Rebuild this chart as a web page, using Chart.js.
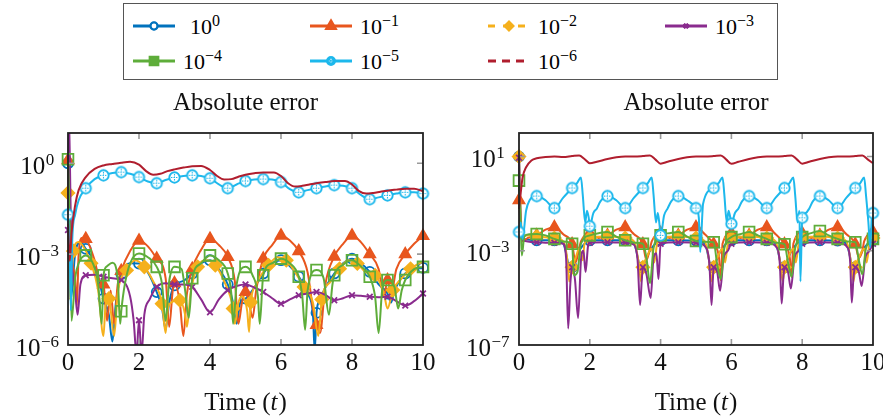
<!DOCTYPE html>
<html>
<head>
<meta charset="utf-8">
<script src="https://cdn.jsdelivr.net/npm/chart.js@4.4.1/dist/chart.umd.min.js"></script>
<style>
  body { margin: 0; width: 883px; height: 419px; background: #fff; position: relative; overflow: hidden; font-family: "Liberation Serif", serif; }
  #legendBox { position: absolute; left: 123px; top: 3px; width: 655px; height: 77px; border: 1.3px solid #555; box-sizing: border-box; }
  .lgc { position: absolute; }
  .lgt { position: absolute; font-size: 22px; line-height: 22px; white-space: nowrap; color: #000; }
  .lgt sup { font-size: 16px; line-height: 0; vertical-align: 8px; }
  #cl { position: absolute; left: 0; top: 85px; }
  #cr { position: absolute; left: 445px; top: 85px; }
</style>
</head>
<body>
<div id="legendBox"></div>
<canvas id="cl" width="445" height="334"></canvas>
<canvas id="cr" width="438" height="334"></canvas>
<script>
// tick labels
const xTicks = [0, 2, 4, 6, 8, 10];
const yExpL = [0, -3, -6];
const yExpR = [1, -3, -7];
// legend: tolerance exponents
const legendExp = ['0', '\u22121', '\u22122', '\u22123', '\u22124', '\u22125', '\u22126'];

// ---------- left panel ----------
const blueTL = [0, 0.08, 0.2, 0.35, 0.5, 0.75, 1.0, 1.15, 1.25, 1.35, 1.5, 1.75, 2.0, 2.25, 2.5, 2.65, 2.75, 2.85, 3.0, 3.25, 3.5, 3.75, 4.0, 4.25, 4.5, 4.65, 4.75, 4.85, 5.0, 5.25, 5.5, 5.75, 6.0, 6.25, 6.5, 6.75, 6.9, 6.95, 7.0, 7.1, 7.25, 7.5, 7.75, 8.0, 8.25, 8.5, 8.75, 9.0, 9.1, 9.2, 9.5, 9.75, 10];
const blueVL = [1, 3.2e-5, 1e-3, 2.5e-3, 1.5e-3, 5e-4, 3.4e-5, 1e-5, 1.3e-6, 2.5e-5, 2.2e-4, 5e-4, 4.9e-4, 2.5e-4, 5.6e-5, 1.6e-5, 3.2e-6, 2.5e-5, 9.3e-5, 1.3e-4, 2.3e-4, 5e-4, 6.3e-4, 3.2e-4, 1e-4, 2.5e-5, 5e-6, 2.5e-5, 3.4e-5, 7.9e-5, 2.3e-4, 5e-4, 6.3e-4, 4e-4, 1.8e-4, 5e-5, 1e-5, 6.3e-7, 1.15e-5, 3.2e-5, 7.9e-5, 2.3e-4, 5e-4, 7.1e-4, 5e-4, 2.6e-4, 1e-4, 5e-5, 2.5e-5, 6.3e-5, 2.3e-4, 3.2e-4, 3.5e-4];

const orangeTL = [0, 0.1, 0.2, 0.25, 0.3, 0.4, 0.5, 0.75, 0.9, 1.0, 1.1, 1.2, 1.3, 1.4, 1.5, 1.75, 2.0, 2.25, 2.5, 2.75, 2.85, 2.95, 3.0, 3.15, 3.25, 3.35, 3.5, 3.75, 4.0, 4.25, 4.5, 4.7, 4.8, 4.9, 5.0, 5.1, 5.2, 5.3, 5.5, 5.75, 6.0, 6.25, 6.5, 6.75, 6.9, 7.0, 7.1, 7.25, 7.5, 7.75, 8.0, 8.25, 8.5, 8.75, 8.9, 9.0, 9.1, 9.25, 9.5, 9.75, 10];
const orangeVL = [1.26, 1e-3, 1.6e-4, 2e-5, 1e-3, 3.5e-3, 3.2e-3, 6.3e-4, 1.26e-4, 1e-4, 6.3e-6, 6.3e-5, 5e-6, 1e-4, 2.8e-4, 1.26e-3, 2.8e-3, 1.8e-3, 7.1e-4, 1.6e-4, 4e-6, 6.3e-5, 1.1e-4, 2.5e-5, 2e-6, 5e-5, 3.3e-4, 1.4e-3, 3.2e-3, 2e-3, 8.1e-4, 1.26e-4, 5e-6, 2.5e-5, 5.6e-5, 2.5e-5, 7.9e-6, 6.3e-5, 7.1e-4, 2e-3, 4.1e-3, 2.8e-3, 1.26e-3, 2.5e-4, 1.6e-5, 4.6e-6, 2.5e-6, 1e-4, 8.3e-4, 2.2e-3, 4.1e-3, 2.5e-3, 1e-3, 3.2e-4, 4e-5, 1.4e-4, 5e-5, 3.2e-4, 1e-3, 2.2e-3, 4e-3];

const yellowTL = [0, 0.05, 0.15, 0.3, 0.4, 0.65, 0.85, 1.0, 1.05, 1.15, 1.3, 1.4, 1.65, 1.9, 2.15, 2.4, 2.65, 2.75, 2.8, 2.9, 3.15, 3.3, 3.35, 3.45, 3.65, 3.9, 4.15, 4.4, 4.65, 4.7, 4.8, 4.9, 5.05, 5.1, 5.15, 5.3, 5.65, 5.9, 6.15, 6.4, 6.65, 6.9, 7.05, 7.15, 7.4, 7.65, 7.9, 8.15, 8.4, 8.65, 8.9, 9.0, 9.15, 9.4, 9.65, 9.9, 10];
const yellowVL = [0.105, 3.2e-5, 1.26e-3, 2.5e-3, 2e-3, 5e-4, 6.3e-5, 2e-6, 1.6e-5, 3.4e-5, 2e-6, 5e-5, 2.95e-4, 6.3e-4, 3.8e-4, 1.26e-4, 2.3e-5, 2.5e-6, 1.26e-5, 2.5e-5, 3e-5, 1e-5, 4e-6, 5e-5, 3.8e-4, 6.3e-4, 4.3e-4, 1.26e-4, 1.6e-5, 5e-6, 2.5e-5, 4e-5, 1.26e-5, 2.7e-6, 2.6e-5, 1e-4, 4.3e-4, 7.9e-4, 6.3e-4, 2.5e-4, 8.3e-5, 2.5e-5, 2e-6, 3.2e-5, 1.26e-4, 3.3e-4, 6.3e-4, 4.9e-4, 2.5e-4, 2e-4, 5e-5, 1.6e-5, 6.5e-5, 1.6e-4, 3.3e-4, 5e-4, 5.6e-4];

const purpleTL = [0, 0.02, 0.1, 0.2, 0.27, 0.35, 0.5, 0.75, 1.0, 1.25, 1.5, 1.75, 1.85, 1.93, 2.0, 2.07, 2.15, 2.3, 2.5, 2.75, 3.0, 3.25, 3.5, 3.75, 4.0, 4.25, 4.5, 4.75, 5.0, 5.25, 5.5, 5.75, 6.0, 6.25, 6.5, 6.75, 7.0, 7.25, 7.5, 7.75, 8.0, 8.25, 8.5, 8.75, 9.0, 9.25, 9.5, 9.75, 10];
const purpleVL = [6.3e-3, 30, 1e-3, 6.3e-5, 1e-5, 1e-4, 2e-4, 2.1e-4, 1.8e-4, 1.6e-4, 1.4e-4, 4e-5, 6.3e-6, 5e-7, 6.6e-6, 5e-7, 1e-5, 3.2e-5, 8.3e-5, 1.1e-4, 1e-4, 1e-4, 8.3e-5, 3.2e-5, 1.2e-5, 3.2e-5, 6.5e-5, 8.9e-5, 1e-4, 7.9e-5, 5.6e-5, 3.5e-5, 2.3e-5, 3.2e-5, 4.4e-5, 5e-5, 5.6e-5, 4.5e-5, 3e-5, 3.5e-5, 4.4e-5, 4.2e-5, 3.9e-5, 3.8e-5, 3.9e-5, 2.8e-5, 2e-5, 2.8e-5, 5e-5];

const greenTL = [0, 0.05, 0.1, 0.2, 0.3, 0.5, 0.7, 0.85, 0.95, 1.0, 1.1, 1.25, 1.4, 1.47, 1.5, 1.6, 1.75, 2.0, 2.25, 2.5, 2.65, 2.75, 2.85, 3.0, 3.2, 3.3, 3.4, 3.5, 3.75, 4.0, 4.25, 4.5, 4.6, 4.65, 4.75, 5.0, 5.2, 5.35, 5.4, 5.5, 5.75, 6.0, 6.25, 6.5, 6.6, 6.68, 6.75, 7.0, 7.2, 7.35, 7.45, 7.5, 7.75, 8.0, 8.25, 8.5, 8.65, 8.75, 8.85, 9.0, 9.2, 9.3, 9.4, 9.5, 9.75, 10];
const greenVL = [1.35, 1e-2, 6.3e-6, 1.6e-4, 5e-4, 9.1e-4, 5e-4, 1e-4, 5e-6, 2e-4, 4e-4, 5.2e-4, 1.6e-4, 5e-6, 1.3e-5, 1e-4, 5e-4, 1.05e-3, 7.9e-4, 3.8e-4, 1e-4, 6.3e-6, 1.26e-4, 3.8e-4, 3.2e-4, 6.3e-5, 7.9e-6, 1.6e-4, 5e-4, 9.1e-4, 6.3e-4, 2.3e-4, 5e-5, 5e-6, 1e-4, 3.8e-4, 2e-4, 4e-5, 5e-6, 2e-4, 5e-4, 7.1e-4, 5e-4, 1.8e-4, 4e-5, 3.2e-6, 6.3e-5, 3e-4, 1.6e-4, 1e-5, 1e-4, 2e-4, 4.5e-4, 6.3e-4, 4e-4, 1.8e-4, 4e-5, 2.5e-6, 6.3e-5, 1.4e-4, 7.9e-5, 1.6e-5, 6.3e-5, 1.4e-4, 3.2e-4, 3.8e-4];

const cyanTL = [0, 0.05, 0.08, 0.12, 0.2, 0.3, 0.5, 0.75, 1.0, 1.25, 1.5, 1.75, 2.0, 2.25, 2.5, 2.75, 3.0, 3.25, 3.5, 3.75, 4.0, 4.25, 4.5, 4.75, 5.0, 5.25, 5.5, 5.75, 6.0, 6.25, 6.5, 6.75, 7.0, 7.25, 7.5, 7.75, 8.0, 8.25, 8.5, 8.75, 9.0, 9.25, 9.5, 9.75, 10];
const cyanVL = [0.02, 1e-3, 1.4e-5, 3e-3, 0.02, 0.06, 0.15, 0.3, 0.4, 0.48, 0.51, 0.45, 0.35, 0.25, 0.22, 0.28, 0.34, 0.38, 0.4, 0.38, 0.32, 0.2, 0.15, 0.2, 0.26, 0.29, 0.3, 0.29, 0.24, 0.14, 0.11, 0.13, 0.15, 0.17, 0.19, 0.18, 0.15, 0.09, 0.065, 0.075, 0.087, 0.1, 0.11, 0.11, 0.1];

const redTL = [0, 0.05, 0.1, 0.2, 0.3, 0.5, 0.75, 1.0, 1.25, 1.5, 1.75, 2.0, 2.2, 2.4, 2.6, 2.8, 3.0, 3.25, 3.5, 3.75, 4.0, 4.2, 4.4, 4.6, 4.8, 5.0, 5.25, 5.5, 5.8, 6.0, 6.2, 6.4, 6.6, 6.8, 7.0, 7.25, 7.5, 7.8, 8.0, 8.2, 8.4, 8.6, 8.8, 9.0, 9.25, 9.5, 9.75, 10];
const redVL = [1e-2, 6e-4, 5e-3, 0.04, 0.13, 0.35, 0.65, 0.85, 0.95, 1.05, 1.12, 0.9, 0.55, 0.42, 0.45, 0.55, 0.63, 0.72, 0.8, 0.82, 0.6, 0.38, 0.29, 0.3, 0.36, 0.42, 0.47, 0.5, 0.5, 0.38, 0.22, 0.17, 0.18, 0.2, 0.22, 0.24, 0.26, 0.26, 0.2, 0.12, 0.1, 0.105, 0.115, 0.125, 0.135, 0.145, 0.145, 0.12];

// ---------- right panel ----------
const blueTR = [0, 0.05, 0.1, 0.25, 0.5, 1.0, 1.25, 1.37, 1.44, 1.5, 1.58, 1.7, 1.85, 2.0, 2.5, 3.0, 3.25, 3.37, 3.44, 3.5, 3.58, 3.7, 3.85, 4.0, 4.5, 5.0, 5.25, 5.37, 5.44, 5.5, 5.58, 5.7, 5.85, 6.0, 6.5, 7.0, 7.25, 7.37, 7.44, 7.5, 7.58, 7.7, 7.85, 8.0, 8.5, 9.0, 9.25, 9.37, 9.44, 9.5, 9.58, 9.7, 9.85, 10];
const blueVR = [10, 2e-2, 3.5e-3, 3e-3, 2.8e-3, 2.8e-3, 2e-3, 4e-4, 1.26e-4, 2e-4, 4e-4, 1e-3, 2e-3, 2.8e-3, 2.8e-3, 2.8e-3, 2e-3, 4e-4, 1.26e-4, 2e-4, 4e-4, 1e-3, 2e-3, 2.8e-3, 2.8e-3, 2.7e-3, 2e-3, 4e-4, 1.26e-4, 2e-4, 4e-4, 1e-3, 2e-3, 2.8e-3, 2.8e-3, 2.8e-3, 2e-3, 4e-4, 1.26e-4, 2e-4, 4e-4, 1e-3, 2e-3, 2.8e-3, 2.8e-3, 2.7e-3, 2e-3, 4e-4, 1.26e-4, 2e-4, 4e-4, 1e-3, 2e-3, 2.8e-3];

const orangeTR = [0, 0.05, 0.1, 0.25, 0.5, 0.75, 1.0, 1.25, 1.5, 1.6, 1.7, 1.75, 2.0, 2.25, 2.5, 2.75, 3.0, 3.25, 3.5, 3.6, 3.7, 3.75, 4.0, 4.25, 4.5, 4.75, 5.0, 5.25, 5.5, 5.65, 5.7, 5.75, 6.0, 6.25, 6.5, 6.75, 7.0, 7.25, 7.5, 7.65, 7.7, 7.75, 8.0, 8.25, 8.5, 8.75, 9.0, 9.25, 9.5, 9.6, 9.7, 9.75, 10];
const orangeVR = [0.14, 1e-2, 2.5e-3, 3.5e-3, 4.5e-3, 7.9e-3, 1e-2, 5e-3, 1.9e-3, 3.2e-4, 1.26e-3, 2.5e-3, 5.6e-3, 3.5e-3, 4.5e-3, 7.9e-3, 1e-2, 5e-3, 1.9e-3, 4e-4, 1.26e-3, 2.5e-3, 5.6e-3, 3.5e-3, 4.5e-3, 7.9e-3, 1e-2, 5e-3, 1.9e-3, 5e-4, 5.6e-5, 2e-3, 5.6e-3, 3.5e-3, 4.5e-3, 7.9e-3, 1e-2, 5e-3, 1.9e-3, 5e-4, 7.9e-5, 2e-3, 5.6e-3, 3.5e-3, 4.5e-3, 7.9e-3, 1e-2, 5e-3, 1.9e-3, 5e-4, 1e-3, 2.5e-3, 6.3e-3];

const yellowTR = [0, 0.05, 0.1, 0.25, 0.5, 1.0, 1.25, 1.35, 1.42, 1.47, 1.5, 1.6, 1.7, 1.8, 1.85, 2.0, 2.5, 3.0, 3.25, 3.38, 3.45, 3.5, 3.6, 3.75, 3.82, 3.9, 4.0, 4.5, 5.0, 5.25, 5.38, 5.45, 5.5, 5.6, 5.75, 5.82, 5.9, 6.0, 6.5, 7.0, 7.25, 7.38, 7.45, 7.5, 7.6, 7.75, 7.82, 7.9, 8.0, 8.5, 9.0, 9.25, 9.38, 9.45, 9.5, 9.6, 9.75, 9.82, 9.9, 10];
const yellowVR = [10, 3.2e-2, 5e-3, 4.5e-3, 4e-3, 3.5e-3, 2.5e-3, 6.3e-4, 5e-5, 1.26e-4, 2e-4, 5e-4, 1.26e-3, 4e-4, 2e-3, 3.5e-3, 4e-3, 3.5e-3, 2.5e-3, 3.2e-4, 5e-5, 2e-4, 5e-4, 1.26e-3, 3.2e-4, 2e-3, 3.5e-3, 4e-3, 3.5e-3, 2.5e-3, 3.2e-4, 5e-5, 2e-4, 5e-4, 1.26e-3, 3.2e-4, 2e-3, 3.5e-3, 4e-3, 3.5e-3, 2.5e-3, 3.2e-4, 5e-5, 2e-4, 5e-4, 1.26e-3, 3.2e-4, 2e-3, 3.5e-3, 4e-3, 3.5e-3, 2.5e-3, 3.2e-4, 5e-5, 2e-4, 5e-4, 1.26e-3, 3.2e-4, 2e-3, 3.5e-3];

const purpleTR = [0, 0.03, 0.06, 0.1, 0.25, 0.5, 0.75, 1.0, 1.25, 1.33, 1.39, 1.45, 1.5, 1.58, 1.67, 1.75, 1.82, 1.88, 1.95, 2.0, 2.5, 3.0, 3.25, 3.35, 3.42, 3.47, 3.5, 3.6, 3.72, 3.8, 3.88, 3.94, 4.0, 4.5, 5.0, 5.3, 5.38, 5.44, 5.48, 5.5, 5.6, 5.68, 5.78, 5.9, 6.0, 6.5, 7.0, 7.3, 7.37, 7.42, 7.47, 7.5, 7.6, 7.68, 7.78, 7.9, 8.0, 8.5, 9.0, 9.3, 9.36, 9.4, 9.45, 9.5, 9.6, 9.68, 9.78, 9.9, 10];
const purpleVR = [8.9, 0.1, 4e-3, 2.8e-3, 2.5e-3, 2.3e-3, 2.2e-3, 2.2e-3, 2e-3, 5e-4, 5e-7, 4e-5, 2e-4, 6.3e-5, 1.4e-6, 4e-4, 1e-3, 1.26e-4, 1.6e-3, 2.2e-3, 2.3e-3, 2.2e-3, 1.8e-3, 4e-4, 5e-6, 6.3e-5, 2e-4, 1e-4, 1e-5, 5e-4, 7.9e-4, 6.3e-5, 2e-3, 2.3e-3, 2.2e-3, 1.26e-3, 2.5e-4, 5e-6, 7.9e-5, 2e-4, 1.26e-4, 2e-5, 5e-4, 1e-3, 2e-3, 2.3e-3, 2.2e-3, 1.26e-3, 2.5e-4, 5.8e-6, 7.9e-5, 2e-4, 1.26e-4, 2.5e-5, 5e-4, 1e-3, 2e-3, 2.3e-3, 2.2e-3, 1.26e-3, 2.5e-4, 6.3e-6, 7.9e-5, 2e-4, 1.26e-4, 3.2e-5, 5e-4, 1e-3, 2e-3];

const greenTR = [0, 0.05, 0.08, 0.15, 0.3, 0.5, 0.75, 1.0, 1.25, 1.5, 1.55, 1.65, 1.75, 2.0, 2.25, 2.5, 2.75, 3.0, 3.25, 3.5, 3.6, 3.7, 3.8, 4.0, 4.25, 4.5, 4.75, 5.0, 5.25, 5.5, 5.6, 5.7, 5.8, 6.0, 6.25, 6.5, 6.75, 7.0, 7.25, 7.5, 7.6, 7.7, 7.8, 8.0, 8.25, 8.5, 8.75, 9.0, 9.25, 9.5, 9.6, 9.7, 9.8, 10];
const greenVR = [0.95, 1e-2, 6.3e-4, 4e-3, 5e-3, 5.2e-3, 4.5e-3, 3.2e-3, 2.5e-3, 2e-3, 9.1e-5, 1.26e-4, 2e-3, 4.5e-3, 5.6e-3, 6.3e-3, 4e-3, 2.8e-3, 2.2e-3, 2e-3, 5e-4, 4.2e-5, 1.26e-3, 4.5e-3, 5.6e-3, 6.3e-3, 4e-3, 2.6e-3, 2.4e-3, 2.3e-3, 2.5e-4, 6.3e-5, 1.26e-3, 3.8e-3, 5e-3, 6.3e-3, 4.5e-3, 3.2e-3, 2.2e-3, 1.9e-3, 3.2e-4, 7.9e-5, 1.26e-3, 3.8e-3, 5.6e-3, 6.9e-3, 4.5e-3, 3.2e-3, 2.5e-3, 2.3e-3, 4e-4, 1e-4, 1.26e-3, 3.2e-3];

const cyanTR = [0, 0.05, 0.1, 0.2, 0.3, 0.5, 0.75, 1.0, 1.25, 1.5, 1.65, 1.75, 1.8, 1.87, 1.92, 1.97, 2.0, 2.1, 2.2, 2.3, 2.5, 2.75, 3.0, 3.25, 3.5, 3.65, 3.75, 3.8, 3.87, 3.92, 3.97, 4.0, 4.1, 4.2, 4.3, 4.5, 4.75, 5.0, 5.08, 5.12, 5.2, 5.5, 5.65, 5.75, 5.8, 5.87, 5.92, 5.97, 6.0, 6.1, 6.2, 6.3, 6.5, 6.75, 7.0, 7.25, 7.5, 7.65, 7.75, 7.8, 7.87, 7.92, 7.95, 8.0, 8.1, 8.2, 8.3, 8.5, 8.75, 9.0, 9.25, 9.5, 9.65, 9.75, 9.8, 9.87, 9.92, 9.97, 10];
const cyanVR = [6.3e-3, 1.6e-2, 3.2e-3, 5e-2, 0.14, 0.21, 0.14, 0.065, 0.18, 0.46, 0.79, 1.3, 0.25, 1.6e-2, 5e-2, 2.5e-2, 1.1e-2, 4e-2, 6.3e-2, 0.126, 0.21, 0.14, 0.065, 0.18, 0.46, 0.79, 1.3, 0.25, 1.6e-2, 4e-2, 1.26e-2, 4.5e-3, 3.2e-2, 6.3e-2, 0.126, 0.21, 0.14, 0.065, 2.5e-2, 8.9e-4, 0.1, 0.46, 0.79, 1.3, 0.25, 1.6e-2, 5e-2, 2.5e-2, 1.4e-2, 4e-2, 6.3e-2, 0.126, 0.21, 0.14, 0.065, 0.18, 0.46, 0.79, 1.3, 0.25, 1.6e-2, 5e-2, 5e-5, 2.5e-2, 4e-2, 6.3e-2, 0.126, 0.21, 0.14, 0.065, 0.18, 0.46, 0.79, 1.3, 0.25, 1.6e-2, 1.4e-3, 3.2e-2, 4e-2];

const redTR = [0, 0.05, 0.1, 0.2, 0.35, 0.5, 0.75, 1.0, 1.25, 1.5, 1.7, 1.85, 2.0, 2.2, 2.5, 2.75, 3.0, 3.25, 3.5, 3.7, 3.85, 4.0, 4.2, 4.5, 4.75, 5.0, 5.25, 5.5, 5.7, 5.85, 6.0, 6.2, 6.5, 6.75, 7.0, 7.25, 7.5, 7.7, 7.85, 8.0, 8.2, 8.5, 8.75, 9.0, 9.25, 9.5, 9.7, 9.85, 10];
const redVR = [0.06, 0.3, 1.26, 3.5, 6.8, 8.5, 9.5, 10, 9.5, 10.5, 11.2, 7.9, 5.2, 6, 7.9, 9.3, 10, 10, 10.5, 11.2, 7.6, 5, 6, 7.9, 9.3, 10, 10, 10.5, 11.2, 7.6, 4.9, 6, 7.9, 9.3, 10, 10, 10.5, 11.2, 7.6, 5, 6, 7.9, 9.3, 10, 10, 10.5, 11.2, 7.6, 5.2];

// ---------- styling ----------
const styles = [
  { color: '#0072BD', shape: 'circle',   r: 5,   fill: false },
  { color: '#E8561E', shape: 'triangle', r: 6.3, fill: true },
  { color: '#F5B01C', shape: 'rectRot',  r: 6.3, fill: true, dash: true },
  { color: '#8A2B8E', shape: 'crossRot', r: 4,   fill: false },
  { color: '#5EAD3A', shape: 'rect',     r: 7.6, fill: false },
  { color: '#1DB8EC', shape: 'otimes',   r: 5.2, fill: false },
  { color: '#B01E2E', shape: null,       r: 0,   fill: false, dash: true }
];

function otimesImage(r, col, filled) {
  const s = Math.ceil(r * 2 + 4);
  const c = document.createElement('canvas');
  c.width = c.height = s;
  const g = c.getContext('2d');
  g.translate(s / 2, s / 2);
  g.beginPath();
  g.arc(0, 0, r, 0, Math.PI * 2);
  g.fillStyle = filled ? col : '#fff';
  g.fill();
  g.lineWidth = 1.9;
  g.strokeStyle = col;
  g.stroke();
  g.strokeStyle = filled ? '#fff' : col;
  g.lineWidth = 1.1;
  g.setLineDash([1.4, 1.1]);
  g.beginPath();
  g.moveTo(-r + 1.7, 0); g.lineTo(r - 1.7, 0);
  g.moveTo(0, -r + 1.7); g.lineTo(0, r - 1.7);
  g.stroke();
  return c;
}
const otimesPlot = otimesImage(5.2, styles[5].color, false);
const otimesLegend = otimesImage(4, styles[5].color, true);

function pts(t, v) { return t.map((x, i) => ({ x: x, y: v[i] })); }

// markers every 0.5 in t (after an offset), plus the first sample
function markerRadius(r, offset) {
  return function (ctx) {
    if (ctx.type !== 'data') return r;
    if (ctx.dataIndex === 0) return r;
    const k = (ctx.raw.x - offset) * 2;
    if (k < -1e-6) return 0;
    return Math.abs(k - Math.round(k)) < 1e-6 ? r : 0;
  };
}

function buildSets(series, offsets) {
  return series.map((s, i) => {
    const st = styles[i];
    return {
      data: pts(s[0], s[1]),
      borderColor: st.color,
      borderWidth: 2,
      cubicInterpolationMode: 'monotone',
      pointStyle: st.shape === 'otimes' ? otimesPlot : (st.shape || 'circle'),
      pointRadius: st.shape ? markerRadius(st.r, offsets[i]) : 0,
      pointBorderWidth: 1.8,
      pointBorderColor: st.color,
      pointBackgroundColor: st.fill ? st.color : 'rgba(255,255,255,0)',
      order: 6 - i,
      clip: { left: 10, right: 10, top: 0, bottom: 0 }
    };
  });
}

const FONT = '"Liberation Serif", serif';

function powLabel(ctx, exp, cx, baseY) {
  const main = '10', sup = exp;
  ctx.font = '25px ' + FONT;
  const w1 = ctx.measureText(main).width;
  ctx.font = '17px ' + FONT;
  const w2 = ctx.measureText(sup).width;
  const x0 = cx - (w1 + w2) / 2;
  ctx.textAlign = 'left';
  ctx.font = '25px ' + FONT;
  ctx.fillText(main, x0, baseY);
  ctx.font = '17px ' + FONT;
  ctx.fillText(sup, x0 + w1 + 0.5, baseY - 9);
}

const frame = {
  id: 'frame',
  afterDatasetsDraw(chart, args, o) {
    const { ctx, chartArea: a } = chart;
    const xs = chart.scales.x, ys = chart.scales.y;
    ctx.save();
    // inward ticks
    ctx.strokeStyle = '#9a9a9a';
    ctx.lineWidth = 1.6;
    ctx.beginPath();
    o.xTicks.forEach(v => {
      const px = xs.getPixelForValue(v);
      if (px > a.left + 2 && px < a.right - 2) {
        ctx.moveTo(px, a.top); ctx.lineTo(px, a.top + 6);
        ctx.moveTo(px, a.bottom); ctx.lineTo(px, a.bottom - 6);
      }
    });
    o.yExp.forEach(e => {
      const py = ys.getPixelForValue(Math.pow(10, e));
      if (py > a.top + 2 && py < a.bottom - 2) {
        ctx.moveTo(a.left, py); ctx.lineTo(a.left + 6, py);
        ctx.moveTo(a.right, py); ctx.lineTo(a.right - 6, py);
      }
    });
    ctx.stroke();
    // box
    ctx.strokeStyle = '#222';
    ctx.lineWidth = 1.8;
    ctx.strokeRect(a.left, a.top, a.right - a.left, a.bottom - a.top);
    // labels
    ctx.fillStyle = '#111';
    ctx.textBaseline = 'alphabetic';
    ctx.font = '25px ' + FONT;
    ctx.textAlign = 'center';
    o.xTicks.forEach(v => ctx.fillText(String(v), xs.getPixelForValue(v), a.bottom + 25));
    o.yExp.forEach(e => {
      const py = ys.getPixelForValue(Math.pow(10, e));
      powLabel(ctx, e < 0 ? '\u2212' + (-e) : String(e), o.labelX, py + 10.5);
    });
    // axis title with italic t
    const cx = (a.left + a.right) / 2;
    const p1 = 'Time (', p2 = 't', p3 = ')';
    ctx.font = '25px ' + FONT;
    const w1 = ctx.measureText(p1).width, w3 = ctx.measureText(p3).width;
    ctx.font = 'italic 25px ' + FONT;
    const w2 = ctx.measureText(p2).width;
    let x0 = cx - (w1 + w2 + w3 + 1) / 2;
    ctx.textAlign = 'left';
    ctx.font = '25px ' + FONT;
    ctx.fillText(p1, x0, a.bottom + 65);
    ctx.font = 'italic 25px ' + FONT;
    ctx.fillText(p2, x0 + w1, a.bottom + 65);
    ctx.font = '25px ' + FONT;
    ctx.fillText(p3, x0 + w1 + w2 + 1, a.bottom + 65);
    // panel title
    ctx.textAlign = 'center';
    ctx.font = '25px ' + FONT;
    ctx.fillText('Absolute error', cx, 25);
    ctx.restore();
  }
};

function makeChart(id, series, offsets, yMin, yMax, pad, yExp, labelX) {
  return new Chart(document.getElementById(id), {
    type: 'line',
    data: { datasets: buildSets(series, offsets) },
    options: {
      responsive: false,
      animation: false,
      layout: { padding: pad },
      scales: {
        x: { type: 'linear', min: 0, max: 10, display: false },
        y: { type: 'logarithmic', min: yMin, max: yMax, display: false }
      },
      plugins: {
        legend: { display: false },
        tooltip: { enabled: false },
        frame: { xTicks: xTicks, yExp: yExp, labelX: labelX }
      },
      events: []
    },
    plugins: [frame]
  });
}

makeChart('cl',
  [[blueTL, blueVL], [orangeTL, orangeVL], [yellowTL, yellowVL], [purpleTL, purpleVL],
   [greenTL, greenVL], [cyanTL, cyanVL], [redTL, redVL]],
  [0, 0, 0.15, 0, 0, 0, 0],
  1e-6, 1e1, { left: 68, right: 22, top: 48, bottom: 74 }, yExpL, 37);

makeChart('cr',
  [[blueTR, blueVR], [orangeTR, orangeVR], [yellowTR, yellowVR], [purpleTR, purpleVR],
   [greenTR, greenVR], [cyanTR, cyanVR], [redTR, redVR]],
  [0, 0, 0, 0, 0, 0, 0],
  1e-7, 1e2, { left: 74, right: 10, top: 48, bottom: 74 }, yExpR, 42.5);

// ---------- legend ----------
const legCols = [133, 310, 488, 665];
const legRows = [26, 60.5];
const legendMarkers = [
  { pointStyle: 'circle', radius: 3.3, borderWidth: 1.8, fill: false },
  { pointStyle: 'triangle', radius: 5, borderWidth: 1, fill: true },
  { pointStyle: 'rectRot', radius: 4, borderWidth: 1, fill: true },
  { pointStyle: 'crossRot', radius: 3, borderWidth: 1.8, fill: false },
  { pointStyle: 'rect', radius: 5.6, borderWidth: 1, fill: true },
  { pointStyle: otimesLegend, radius: 4, borderWidth: 1, fill: true },
  null
];
legendExp.forEach((ex, i) => {
  const col = i < 4 ? i : i - 4;
  const row = i < 4 ? 0 : 1;
  const lx = legCols[col], ly = legRows[row];
  const st = styles[i];
  const c = document.createElement('canvas');
  c.width = 48; c.height = 24; c.className = 'lgc';
  c.style.left = (lx - 3) + 'px';
  c.style.top = (ly - 12) + 'px';
  document.body.appendChild(c);
  const g = c.getContext('2d');
  g.strokeStyle = st.color;
  g.lineWidth = 2.8;
  if (st.dash) g.setLineDash(i === 6 ? [8, 6] : [7, 8]);
  g.beginPath(); g.moveTo(3, 12); g.lineTo(45, 12); g.stroke();
  g.setLineDash([]);
  const m = legendMarkers[i];
  if (m) {
    g.fillStyle = m.fill ? st.color : '#fff';
    Chart.helpers.drawPoint(g, { pointStyle: m.pointStyle, radius: m.radius, borderWidth: m.borderWidth, rotation: 0 }, 24, 12);
    if (m.fill) g.fill();
    else { g.fillStyle = '#fff'; g.fill(); }
    g.lineWidth = m.borderWidth;
    g.stroke();
  }
  const tx = document.createElement('div');
  tx.className = 'lgt';
  tx.innerHTML = '10<sup>' + ex + '</sup>';
  tx.style.left = (i === 0 ? 190 : lx + 50) + 'px';
  tx.style.top = (ly - 10) + 'px';
  document.body.appendChild(tx);
});
</script>
</body>
</html>
